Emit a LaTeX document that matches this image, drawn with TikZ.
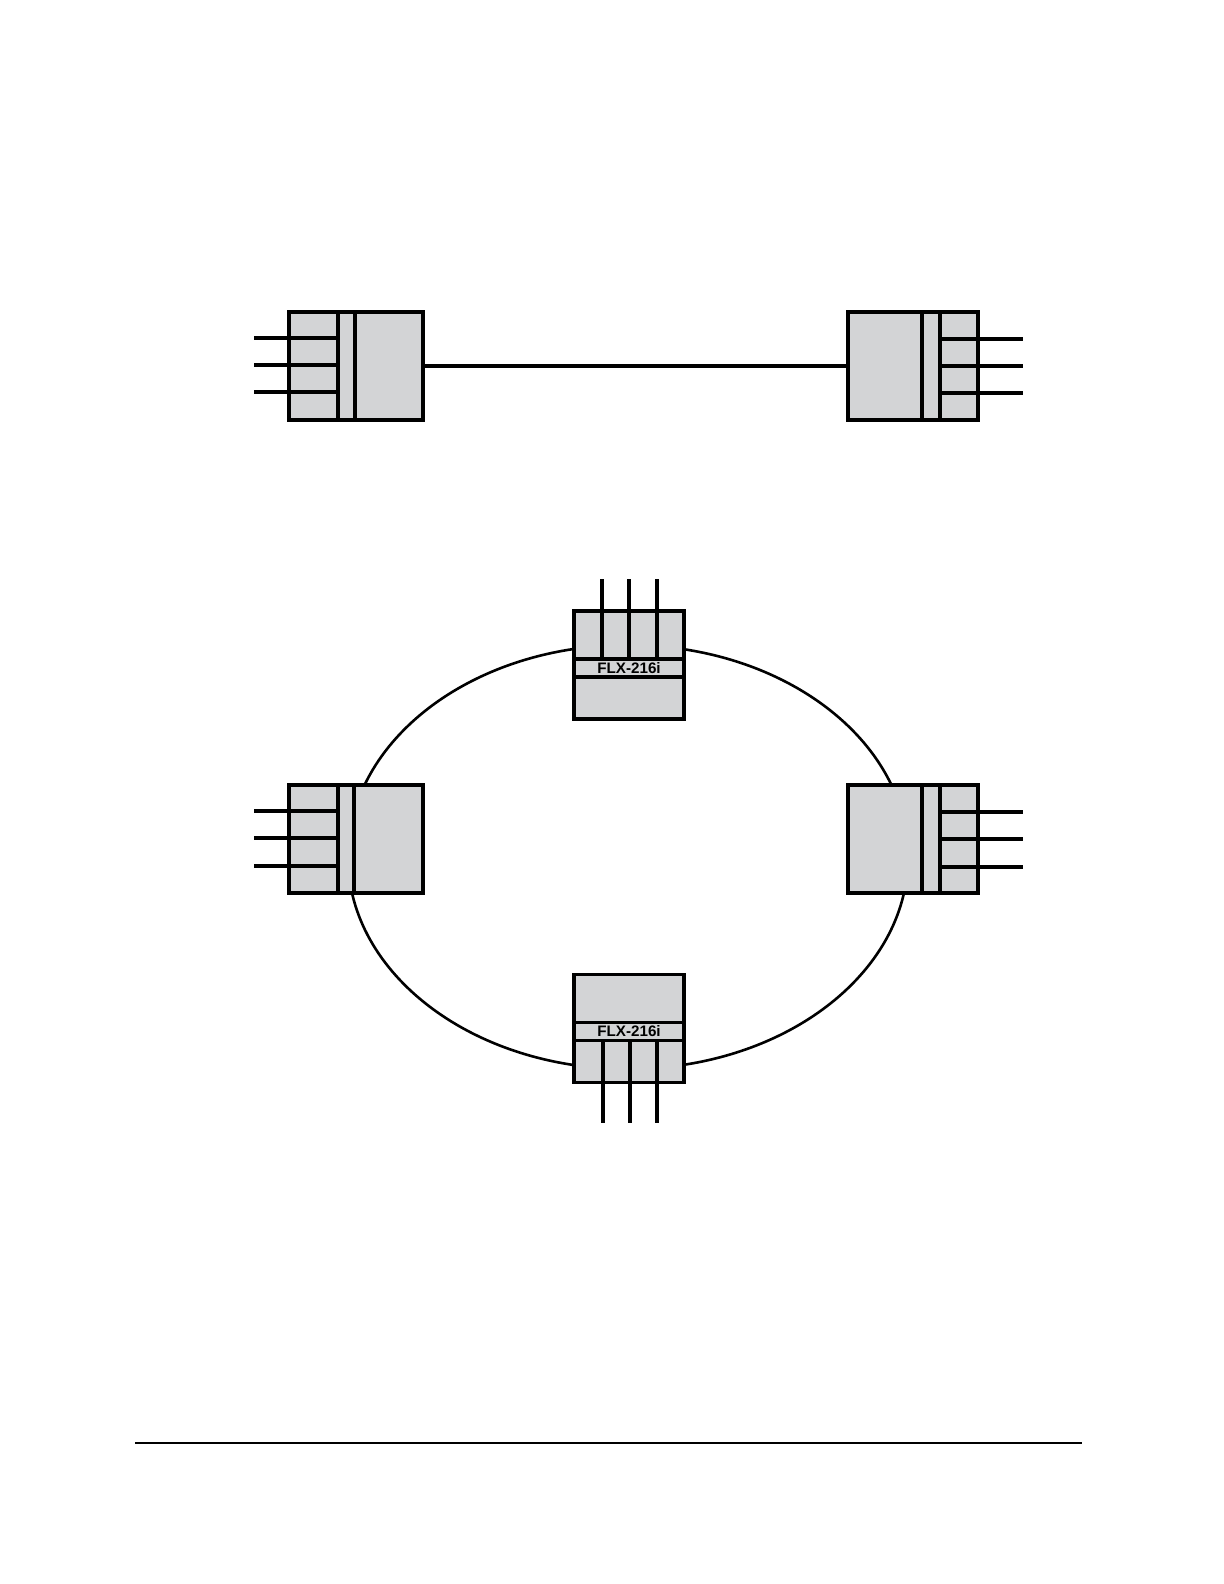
\documentclass[tikz,border=0pt]{standalone}
\usepackage{fontspec}
\newfontfamily\unitfont{Liberation Sans}
\usetikzlibrary{positioning, calc}
\definecolor{boxgray}{RGB}{211,212,214}

\begin{document}
\begin{tikzpicture}[
    x=0.5pt, y=-0.5pt,
    node distance=182.5pt and 212.5pt,
    unit/.style={draw, line width=1.6pt, fill=boxgray, inner sep=0pt, outer sep=0pt, minimum width=67pt, minimum height=54pt},
    runit/.style={unit, minimum width=65pt},
    ringunit/.style={unit, minimum width=55pt},
    wire/.style={line width=1.6pt},
    ring/.style={line width=1.3pt},
    tag/.style={font=\unitfont\bfseries\fontsize{7.6}{8}\selectfont, inner sep=0pt}
]
\useasboundingbox (0,0) rectangle (1224,1584);

% point to point
\node[unit] (A) at (356,366) {};
\node[runit, right=of A] (B) {};
\draw[wire] (A.east) -- (B.west);

\foreach \dx in {49,66} \draw[wire] ($(A.north west)+(\dx,0)$) -- ($(A.south west)+(\dx,0)$);
\foreach \dy in {26,53,80} \draw[wire] ($(A.north west)+(-35,\dy)$) -- ($(A.north west)+(49,\dy)$);
\foreach \dx in {-56,-38} \draw[wire] ($(B.north east)+(\dx,0)$) -- ($(B.south east)+(\dx,0)$);
\foreach \dy in {27,54,81} \draw[wire] ($(B.north east)+(-38,\dy)$) -- ($(B.north east)+(45,\dy)$);

% ring
\coordinate (ringc) at (628,857);
\draw[ring] (ringc) ellipse [x radius=140pt, y radius=106pt];

\node[unit, below=of A] (L) {};
\node[runit, below=of B] (R) {};
\node[ringunit] (T) at (629,665) {};
\node[ringunit] (D) at (629,1028.5) {};

\foreach \dx in {49,65} \draw[wire] ($(L.north west)+(\dx,0)$) -- ($(L.south west)+(\dx,0)$);
\foreach \dy in {26,53,81} \draw[wire] ($(L.north west)+(-35,\dy)$) -- ($(L.north west)+(49,\dy)$);
\foreach \dx in {-56,-38} \draw[wire] ($(R.north east)+(\dx,0)$) -- ($(R.south east)+(\dx,0)$);
\foreach \dy in {27,54,82} \draw[wire] ($(R.north east)+(-38,\dy)$) -- ($(R.north east)+(45,\dy)$);

\foreach \dy in {48,66} \draw[wire] ($(T.north west)+(0,\dy)$) -- ($(T.north east)+(0,\dy)$);
\foreach \dx in {28,55,83} \draw[wire] ($(T.north west)+(\dx,-32)$) -- ($(T.north west)+(\dx,48)$);
\node[tag] (Tlab) at ($(T.north)+(0,57)$) {FLX-216i};

\foreach \dy in {48,66} \draw[wire] ($(D.north west)+(0,\dy)$) -- ($(D.north east)+(0,\dy)$);
\foreach \dx in {29,56,83} \draw[wire] ($(D.north west)+(\dx,66)$) -- ($(D.south west)+(\dx,40)$);
\node[tag] (Dlab) at ($(D.north)+(0,57)$) {FLX-216i};

% page rule
\coordinate (ruleL) at (135,1443);
\coordinate (ruleR) at (1082,1443);
\draw[line width=1.2pt] (ruleL) -- (ruleR);

\end{tikzpicture}
\end{document}
